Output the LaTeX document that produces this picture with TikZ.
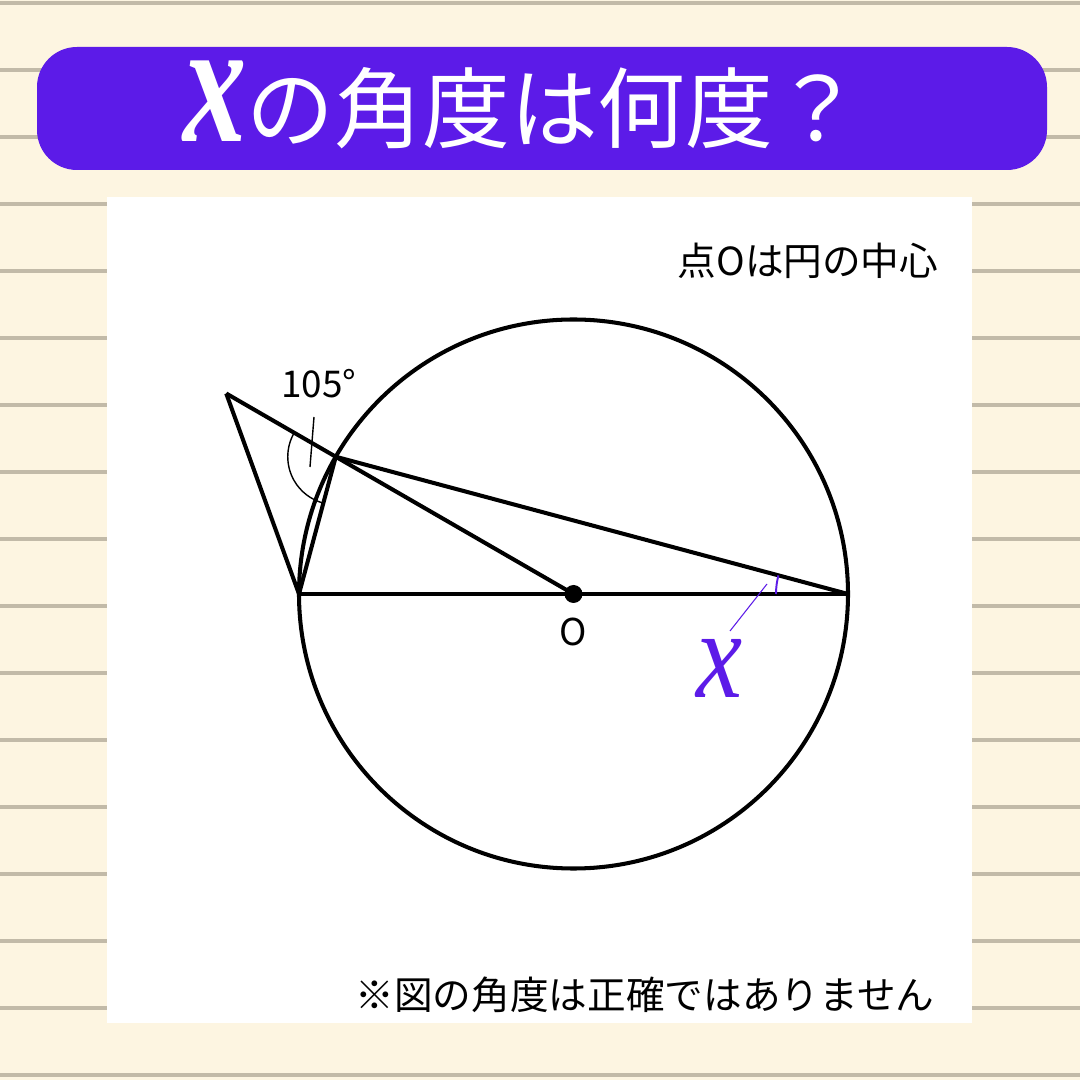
\documentclass[tikz,border=0pt]{standalone}
\usepackage{fontspec}
\newfontfamily\jpfont{Noto Sans CJK JP}
\newfontfamily\xtitlefont[FakeStretch=0.72]{Liberation Serif}
\newfontfamily\xlabelfont[FakeStretch=0.82]{Liberation Serif}
\usetikzlibrary{calc}

\definecolor{cream}{RGB}{253,245,225}
\definecolor{ruleline}{RGB}{194,186,168}
\definecolor{banner}{RGB}{92,27,232}

\begin{document}
\begin{tikzpicture}[x=0.02cm, y=0.02cm,
    thickline/.style={line width=2.3pt, line join=round},
    thinline/.style={line width=0.8pt},
    notetext/.style={font=\jpfont\fontsize{22}{22}\selectfont, inner sep=0pt},
    labeltext/.style={font=\jpfont\fontsize{21}{21}\selectfont, inner sep=0pt}]

% Background paper with rule lines
\fill[cream] (0,0) rectangle (1080,1080);
\useasboundingbox (0,0) rectangle (1080,1080);
\foreach \k in {0,...,16}
    \draw[ruleline, line width=2.3pt] (0,1077-67*\k) -- (1080,1077-67*\k);

% Title banner
\fill[banner, rounded corners=0.8cm] (37,910) rectangle (1047,1033);
\node[text=white, inner sep=0pt, anchor=base west] (title) at (183,938)
    {{\xtitlefont\fontsize{100}{100}\selectfont\bfseries\itshape x}%
     {\jpfont\fontsize{50}{50}\selectfont の角度は何度？}};

% White panel for the figure
\fill[white] (107,57) rectangle (972,883);

% Define Coordinates (O is the center of the circle)
\coordinate (O) at (573.5,486);
\coordinate (A) at ($(O)+(180:274.5)$);
\coordinate (B) at ($(O)+(0:274.5)$);
\coordinate (P) at ($(O)+(150:274.5)$); % point on the circle
\coordinate (Q) at ($(O)+(150:401)$);   % outside point, on line OP

% Circle and segments
\draw[thickline] (O) circle[radius=274.5];
\draw[thickline] (A) -- (B);
\draw[thickline] (Q) -- (O); % this line goes through P
\draw[thickline] (Q) -- (A);
\draw[thickline] (A) -- (P) -- (B);
\fill (O) circle[radius=9];

% Angle marks
\draw[thinline] ($(P)+(150:48)$) arc[start angle=150, end angle=255, radius=48];
\draw[line width=1.1pt, banner] ($(B)+(165:72)$) arc[start angle=165, end angle=180, radius=72];

% Labels
\node[labeltext] (lblO) at (573,448) {O};

\node[labeltext] (lbl105) at (319,696) {105°};
\coordinate (lead105a) at (314,663);
\coordinate (lead105b) at (310,613);
\draw[thinline] (lead105a) -- (lead105b);

\node[text=banner, inner sep=0pt] (lblx) at (720,412)
    {\xlabelfont\fontsize{72}{72}\selectfont\itshape x};
\coordinate (leadxa) at (767,496);
\coordinate (leadxb) at (730,449);
\draw[line width=0.6pt, banner] (leadxa) -- (leadxb);

% Notes
\node[notetext] (note) at (808,819) {点Oは円の中心};
\node[notetext] (caution) at (645,85) {※図の角度は正確ではありません};

\end{tikzpicture}
\end{document}
